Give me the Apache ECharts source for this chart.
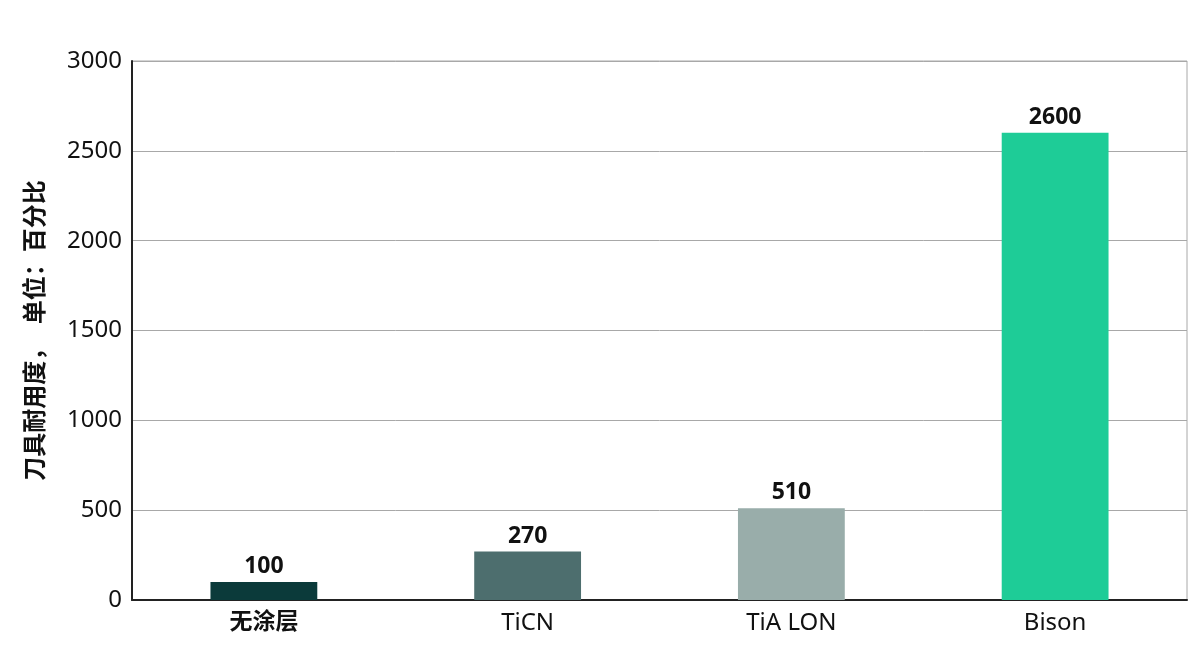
<!DOCTYPE html>
<html><head><meta charset="utf-8">
<script src="https://cdn.jsdelivr.net/npm/echarts@6/dist/echarts.min.js"></script>
<style>html,body{margin:0;padding:0;background:#fff}#c{width:1200px;height:667px}</style>
</head><body><div id="c"></div>
<script>
const categories = ['无涂层', 'TiCN', 'TiA LON', 'Bison'];
const values = [100, 270, 510, 2600];
const colors = ['#0b3a3a', '#4d6e6e', '#99adaa', '#1ecc97'];
const yTicks = [0, 500, 1000, 1500, 2000, 2500, 3000];
const yName = '刀具耐用度，  单位：百分比';
const FONT = '"Noto Sans", "Noto Sans CJK SC", sans-serif';

const chart = echarts.init(document.getElementById('c'));
chart.setOption({
  animation: false,
  backgroundColor: '#fff',
  grid: { left: 132, right: 13, top: 61, bottom: 67, show: true, borderColor: '#a8a8a8', borderWidth: 1 },
  xAxis: {
    type: 'category', data: categories,
    axisLine: { lineStyle: { color: '#222', width: 2 } },
    axisTick: { show: false },
    axisLabel: {
      fontFamily: FONT, fontSize: 24, color: '#111', margin: 11,
      formatter: v => v === '无涂层' ? '{b|' + v + '}' : v,
      rich: { b: { fontFamily: FONT, fontSize: 23, fontWeight: 'bold', color: '#111' } }
    }
  },
  yAxis: {
    type: 'value', min: yTicks[0], max: yTicks[yTicks.length - 1], interval: 500,
    name: yName, nameLocation: 'middle', nameGap: 84, nameRotate: 90,
    nameTextStyle: { fontFamily: FONT, fontSize: 24, fontWeight: 'bold', color: '#111' },
    axisLine: { show: true, lineStyle: { color: '#222', width: 2 } },
    axisTick: { show: false },
    splitLine: { lineStyle: { color: '#a8a8a8', width: 1 } },
    axisLabel: { fontFamily: FONT, fontSize: 24, color: '#111', margin: 10, formatter: v => String(v) }
  },
  series: [{
    type: 'bar', barWidth: '40.5%',
    data: values.map((v, i) => ({ value: v, itemStyle: { color: colors[i] } })),
    label: { show: true, position: 'top', distance: 4, fontFamily: FONT, fontSize: 23, fontWeight: 'bold', color: '#111' }
  }]
});
</script></body></html>
